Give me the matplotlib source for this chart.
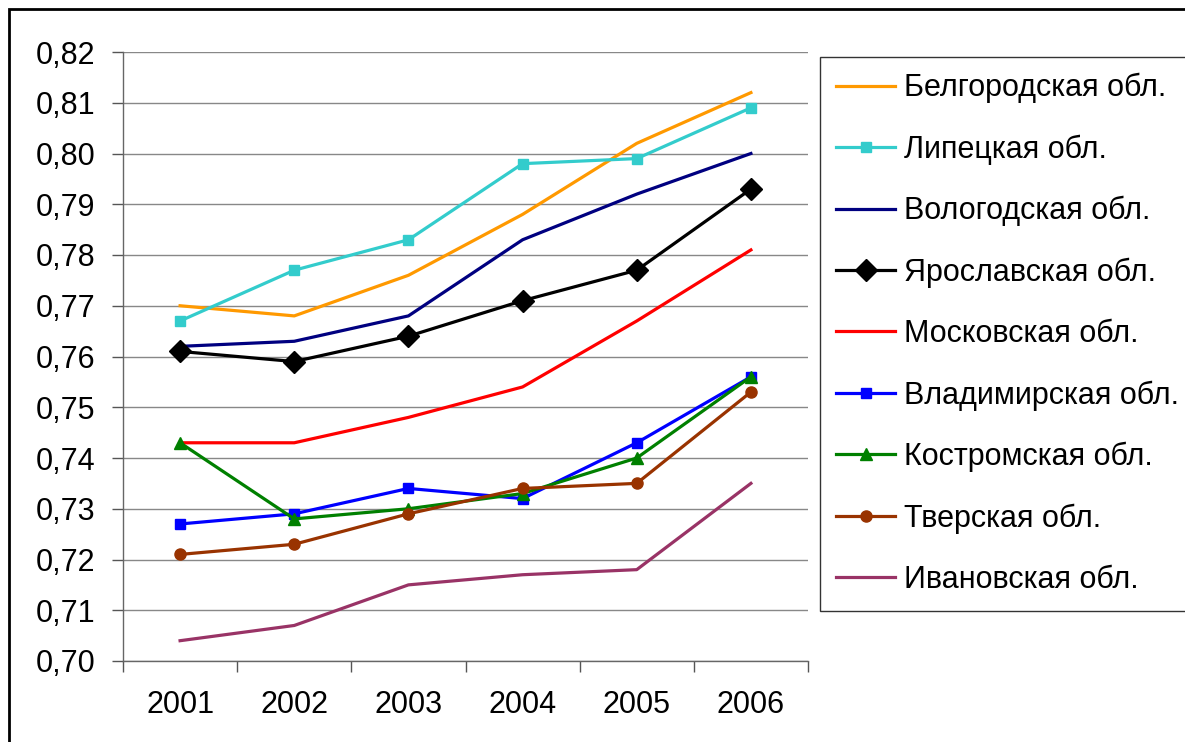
import matplotlib.pyplot as plt
import matplotlib.patches as patches
import numpy as np

plt.rcParams['font.family'] = ['Liberation Sans', 'DejaVu Sans']

years = ['2001', '2002', '2003', '2004', '2005', '2006']

belgorod = [0.770, 0.768, 0.776, 0.788, 0.802, 0.812]
lipetsk = [0.767, 0.777, 0.783, 0.798, 0.799, 0.809]
vologda = [0.762, 0.763, 0.768, 0.783, 0.792, 0.800]
yaroslavl = [0.761, 0.759, 0.764, 0.771, 0.777, 0.793]
moscow = [0.743, 0.743, 0.748, 0.754, 0.767, 0.781]
vladimir = [0.727, 0.729, 0.734, 0.732, 0.743, 0.756]
kostroma = [0.743, 0.728, 0.730, 0.733, 0.740, 0.756]
tver = [0.721, 0.723, 0.729, 0.734, 0.735, 0.753]
ivanovo = [0.704, 0.707, 0.715, 0.717, 0.718, 0.735]

labels = ['Белгородская обл.', 'Липецкая обл.', 'Вологодская обл.',
          'Ярославская обл.', 'Московская обл.', 'Владимирская обл.',
          'Костромская обл.', 'Тверская обл.', 'Ивановская обл.']

series = [belgorod, lipetsk, vologda, yaroslavl, moscow,
          vladimir, kostroma, tver, ivanovo]
colors = ['#FF9900', '#33CCCC', '#000080', '#000000', '#FF0000',
          '#0000FF', '#008000', '#993300', '#993366']
markers = [None, 's', None, 'D', None, 's', '^', 'o', None]
msizes = [0, 7, 0, 11, 0, 7, 9, 8, 0]

fig = plt.figure(figsize=(11.85, 7.42), dpi=100)
ax = fig.add_axes([123 / 1185, 1 - 661 / 742, 685 / 1185, 609 / 742])

x = np.arange(len(years)) + 0.5
for vals, lab, c, m, ms in zip(series, labels, colors, markers, msizes):
    ax.plot(x, vals, color=c, lw=2.3, marker=m, markersize=ms, label=lab)

ax.set_xlim(0, 6)
ax.set_ylim(0.70, 0.82)
yt = np.arange(0.70, 0.8201, 0.01)
ax.set_yticks(yt)
ax.set_yticklabels([f'{v:.2f}'.replace('.', ',') for v in yt])
ax.set_xticks(np.arange(0, 7))
ax.set_xticklabels([])
ax.set_xticks(x, minor=True)
ax.set_xticklabels(years, minor=True)
ax.tick_params(axis='x', which='minor', length=0, pad=21, labelsize=22)
ax.tick_params(axis='x', which='major', length=8, width=1, color='#555555')
ax.tick_params(axis='y', length=8, width=1, color='#555555', pad=12, labelsize=22)
ax.yaxis.grid(True, color='#888888', lw=1)
ax.set_axisbelow(True)
for s in ['top', 'right']:
    ax.spines[s].set_visible(False)
for s in ['left', 'bottom']:
    ax.spines[s].set_color('#666666')
    ax.spines[s].set_linewidth(1)

leg = fig.legend(loc='upper left', bbox_to_anchor=(820 / 1185, 1 - 57 / 742),
                 borderaxespad=0, fancybox=False, frameon=True, fontsize=22,
                 handlelength=1.95, handletextpad=0.28, labelspacing=1.02,
                 borderpad=0.52)
leg.get_frame().set_edgecolor('#000000')
leg.get_frame().set_linewidth(1)

fig.patches.append(patches.Rectangle((9 / 1185, -0.1), 1.2, 1 - 9 / 742 + 0.1,
                                     transform=fig.transFigure, fill=False,
                                     edgecolor='black', lw=2))

fig.savefig('out.png', dpi=100)
